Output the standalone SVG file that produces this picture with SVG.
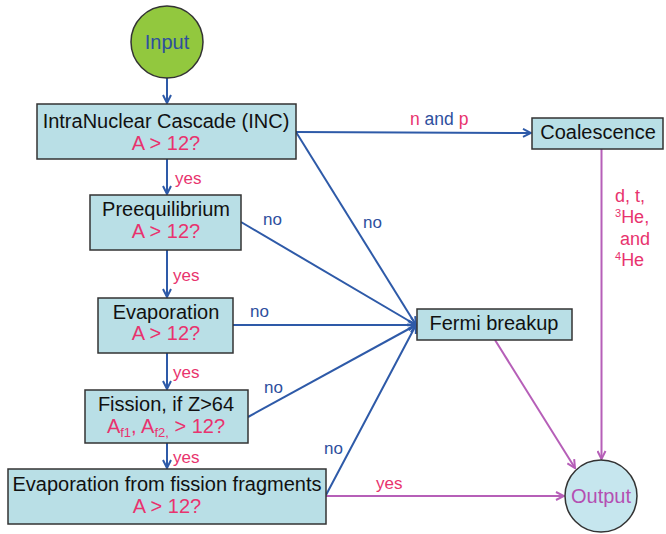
<svg xmlns="http://www.w3.org/2000/svg" width="666" height="534" viewBox="0 0 666 534">
<style>
text{font-family:"Liberation Sans",Arial,sans-serif}
.box{fill:#b9dfe6;stroke:#333;stroke-width:1.5}
.t{font-size:20px;fill:#111;text-anchor:middle}
.q{font-size:20px;fill:#e8336e;text-anchor:middle}
.lb{font-size:17px;fill:#2e4f9e}
.lp{font-size:17px;fill:#e8336e}
.b{stroke:#2e5aa8;stroke-width:2;fill:none}
.p{stroke:#b65fb8;stroke-width:2;fill:none}
</style>
<defs>
<marker id="ab" viewBox="0 0 10 10" refX="9" refY="5" markerWidth="10" markerHeight="10" markerUnits="userSpaceOnUse" orient="auto"><path d="M1,1 L9,5 L1,9" fill="none" stroke="#2e5aa8" stroke-width="2"/></marker>
<marker id="ap" viewBox="0 0 10 10" refX="9" refY="5" markerWidth="10" markerHeight="10" markerUnits="userSpaceOnUse" orient="auto"><path d="M1,1 L9,5 L1,9" fill="none" stroke="#b65fb8" stroke-width="2"/></marker>
</defs>
<g id="connectors">
<line class="b" x1="167" y1="78" x2="167" y2="103" marker-end="url(#ab)"/>
<line class="b" x1="167" y1="159" x2="167" y2="194" marker-end="url(#ab)"/>
<line class="b" x1="167" y1="250" x2="167" y2="297" marker-end="url(#ab)"/>
<line class="b" x1="167" y1="353" x2="167" y2="389" marker-end="url(#ab)"/>
<line class="b" x1="167" y1="443" x2="167" y2="468" marker-end="url(#ab)"/>
<line class="b" x1="296" y1="132" x2="531" y2="133" marker-end="url(#ab)"/>
<line class="b" x1="296" y1="132" x2="416" y2="325" marker-end="url(#ab)"/>
<line class="b" x1="241" y1="222" x2="416" y2="325" marker-end="url(#ab)"/>
<line class="b" x1="233" y1="325" x2="416" y2="325" marker-end="url(#ab)"/>
<line class="b" x1="248" y1="417" x2="416" y2="325" marker-end="url(#ab)"/>
<line class="b" x1="326" y1="495" x2="416" y2="325" marker-end="url(#ab)"/>
<line class="p" x1="326" y1="496" x2="564" y2="496" marker-end="url(#ap)"/>
<line class="p" x1="495" y1="340" x2="575" y2="468" marker-end="url(#ap)"/>
<line class="p" x1="601.5" y1="149" x2="601.5" y2="459" marker-end="url(#ap)"/>
<text class="lp" x="175" y="184">yes</text>
<text class="lp" x="173" y="281">yes</text>
<text class="lp" x="173" y="378">yes</text>
<text class="lp" x="173" y="463">yes</text>
<text class="lp" x="376" y="489">yes</text>
<text class="lb" x="363" y="228">no</text>
<text class="lb" x="263" y="225">no</text>
<text class="lb" x="250" y="317">no</text>
<text class="lb" x="264" y="393">no</text>
<text class="lb" x="324" y="454">no</text>
<text x="410" y="125" style="font-size:17.5px"><tspan fill="#e8336e">n</tspan><tspan fill="#2e4f9e"> and </tspan><tspan fill="#e8336e">p</tspan></text>
<text class="lp" style="font-size:18px"><tspan x="615" y="202">d, t,</tspan><tspan x="615" y="223"><tspan font-size="11" dy="-6">3</tspan><tspan dy="6">He,</tspan></tspan><tspan x="620" y="245">and</tspan><tspan x="615" y="266"><tspan font-size="11" dy="-6">4</tspan><tspan dy="6">He</tspan></tspan></text>
</g>
<g id="input">
<circle cx="167" cy="42" r="36" fill="#92c83e" stroke="#333" stroke-width="1.5"/>
<text x="167" y="49" style="font-size:20px;fill:#2e4f9e;text-anchor:middle">Input</text>
</g>
<g id="inc">
<rect class="box" x="37" y="104" width="259" height="55"/>
<text class="t" x="166" y="128">IntraNuclear Cascade (INC)</text>
<text class="q" x="166" y="150">A &gt; 12?</text>
</g>
<g id="preequilibrium">
<rect class="box" x="90" y="195" width="151" height="55"/>
<text class="t" x="166" y="216">Preequilibrium</text>
<text class="q" x="166" y="238">A &gt; 12?</text>
</g>
<g id="evaporation">
<rect class="box" x="98" y="298" width="135" height="55"/>
<text class="t" x="166" y="319">Evaporation</text>
<text class="q" x="166" y="340">A &gt; 12?</text>
</g>
<g id="fission">
<rect class="box" x="85" y="390" width="163" height="53"/>
<text class="t" x="166" y="411">Fission, if Z&gt;64</text>
<text class="q" x="166" y="433">A<tspan font-size="13" dy="4">f1</tspan><tspan dy="-4">, A</tspan><tspan font-size="13" dy="4">f2,</tspan><tspan dy="-4"> &gt; 12?</tspan></text>
</g>
<g id="evapff">
<rect class="box" x="8" y="469" width="318" height="55"/>
<text class="t" x="167" y="491">Evaporation from fission fragments</text>
<text class="q" x="167" y="513">A &gt; 12?</text>
</g>
<g id="coalescence">
<rect class="box" x="532" y="118" width="131" height="31"/>
<text class="t" x="598" y="139">Coalescence</text>
</g>
<g id="fermi">
<rect class="box" x="417" y="309" width="155" height="31"/>
<text class="t" x="494" y="330">Fermi breakup</text>
</g>
<g id="output">
<circle cx="601" cy="496" r="36" fill="#c6e6ee" stroke="#333" stroke-width="1.5"/>
<text x="601" y="503" style="font-size:20px;fill:#b44fb2;text-anchor:middle">Output</text>
</g>
</svg>
